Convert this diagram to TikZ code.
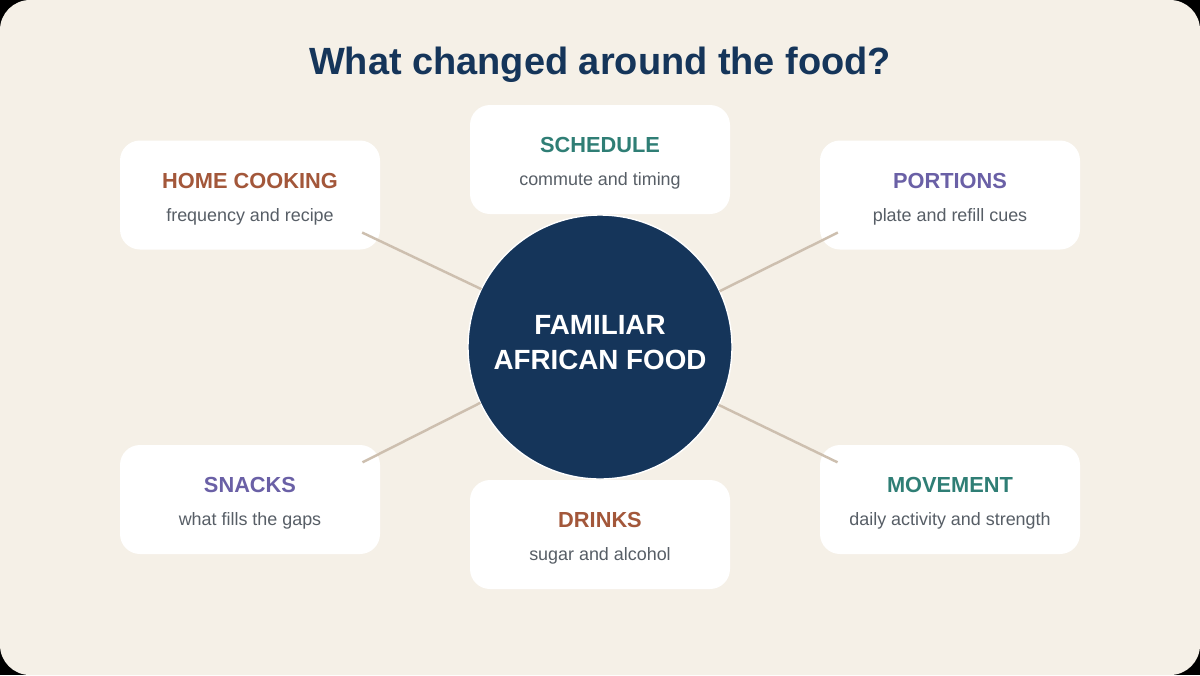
\documentclass[tikz,border=0pt]{standalone}
\usepackage{fontspec}
\setmainfont{Liberation Sans}

\definecolor{pagecream}{HTML}{F5F0E7}
\definecolor{hubnavy}{HTML}{15355A}
\definecolor{headrust}{HTML}{A3573A}
\definecolor{headteal}{HTML}{2F7E75}
\definecolor{headviolet}{HTML}{6A60A6}
\definecolor{subslate}{HTML}{575E66}
\definecolor{linktan}{HTML}{CDBFAF}

\newcommand{\cardhead}[2]{{\color{#1}\fontsize{12.4}{18.7}\selectfont\bfseries #2}}

\tikzset{
  card/.style={fill=white, rounded corners=0.4cm, minimum width=5.2cm,
    minimum height=2.18cm, align=center, text=subslate, text height=32.1pt,
    font=\fontsize{10.2}{18.7}\selectfont},
  hub/.style={circle, fill=hubnavy, draw=white, line width=0.8pt,
    minimum size=5.28cm, inner sep=0pt, outer sep=0pt, align=center,
    text=white, text depth=5pt, font=\fontsize{15.8}{19.8}\selectfont\bfseries},
  link/.style={draw=linktan, line width=1.4pt}
}

\begin{document}
\begin{tikzpicture}
      % Draw page
      \useasboundingbox (0,0) rectangle (24,-13.5);
      \fill[black] (0,0) rectangle (24,-13.5);
      \fill[pagecream, rounded corners=0.6cm] (0,0) rectangle (24,-13.5);
      % Draw title
      \node[anchor=base, text=hubnavy, font=\fontsize{21.6}{25}\selectfont\bfseries]
        (title) at (12,-1.48) {What changed around the food?};
      % Draw the cards
      \node[card] (home) at (5,-3.9)
        {\cardhead{headrust}{HOME COOKING}\\ frequency and recipe};
      \node[card] (schedule) at (12,-3.19)
        {\cardhead{headteal}{SCHEDULE}\\ commute and timing};
      \node[card] (portions) at (19,-3.9)
        {\cardhead{headviolet}{PORTIONS}\\ plate and refill cues};
      \node[card] (snacks) at (5,-9.99)
        {\cardhead{headviolet}{SNACKS}\\ what fills the gaps};
      \node[card] (drinks) at (12,-10.69)
        {\cardhead{headrust}{DRINKS}\\ sugar and alcohol};
      \node[card] (movement) at (19,-9.99)
        {\cardhead{headteal}{MOVEMENT}\\ daily activity and strength};
      % Draw the hub
      \node[hub] (hub) at (12,-6.94) {FAMILIAR\\AFRICAN FOOD};
      % Draw the spokes
      \coordinate (homeend) at ([shift={(154.3:5.28)}]hub.center);
      \coordinate (portionsend) at ([shift={(25.7:5.28)}]hub.center);
      \coordinate (snacksend) at ([shift={(205.9:5.28)}]hub.center);
      \coordinate (movementend) at ([shift={(334.1:5.28)}]hub.center);
      \draw[link] (hub.154.3) -- (homeend);
      \draw[link] (hub.25.7) -- (portionsend);
      \draw[link] (hub.205.9) -- (snacksend);
      \draw[link] (hub.334.1) -- (movementend);
    \end{tikzpicture}
\end{document}
